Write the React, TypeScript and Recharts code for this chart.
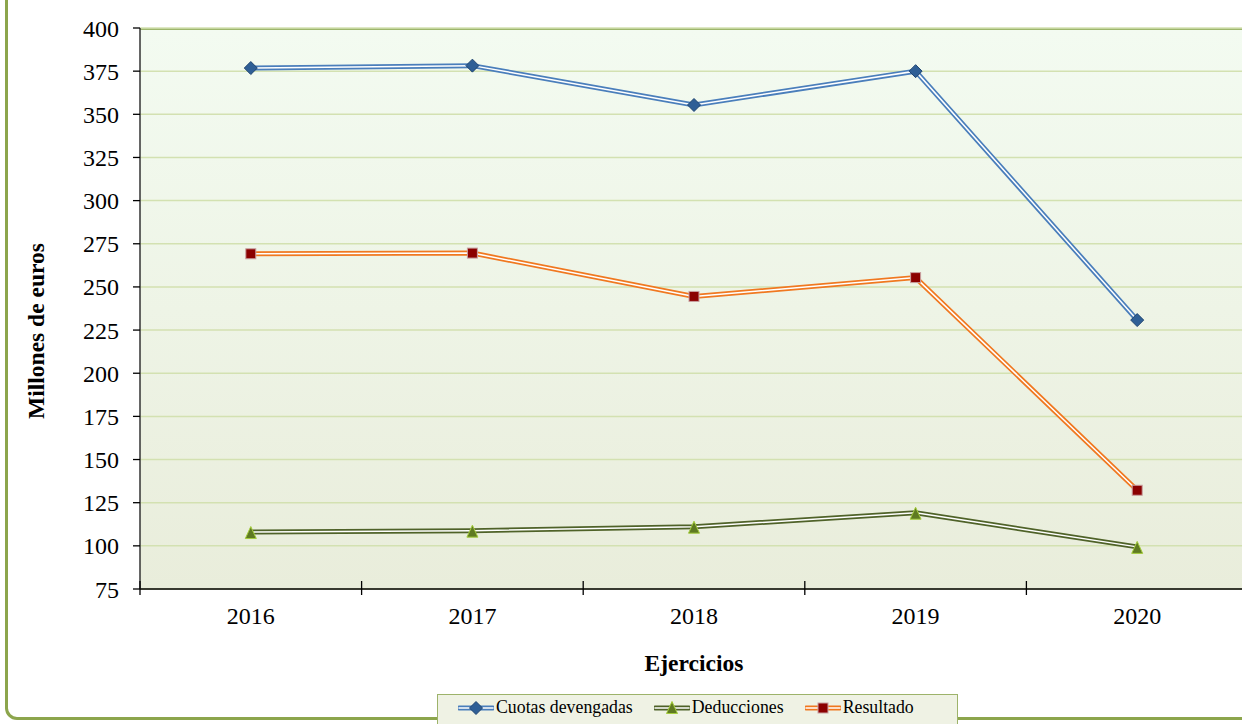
import { LineChart, Line, XAxis, YAxis, CartesianGrid } from "recharts";

const years = ["2016", "2017", "2018", "2019", "2020"];
const cuotas = [376.8, 378.2, 355.4, 375, 230.8];
const deducciones = [108, 108.8, 111.1, 119.2, 99.4];
const resultado = [269.2, 269.6, 244.5, 255.4, 132.2];
const yTicks = [75, 100, 125, 150, 175, 200, 225, 250, 275, 300, 325, 350, 375, 400];

const data = years.map((y, i) => ({
  year: y,
  cuotas: cuotas[i],
  deducciones: deducciones[i],
  resultado: resultado[i],
}));

const FONT = "Liberation Serif, Times New Roman, serif";
const CHART_W = 1300;
const CHART_H = 724;
const TOP = 28;
const LEFT = 140;
const RIGHT = 52;
const XAXIS_H = 135;
const PLOT_W = CHART_W - LEFT - RIGHT;
const AXIS_Y = CHART_H - XAXIS_H;
const BAND = PLOT_W / years.length;

const BLUE = "#4a7ebb";
const GREEN = "#4f6228";
const ORANGE = "#f07820";

function Diamond({ cx, cy }: any) {
  if (cx == null || cy == null) return null;
  return (
    <polygon
      points={`${cx - 6.5},${cy} ${cx},${cy - 6.5} ${cx + 6.5},${cy} ${cx},${cy + 6.5}`}
      fill="#2f5f96"
      stroke="#1f4470"
      strokeWidth={1}
    />
  );
}

function Square({ cx, cy }: any) {
  if (cx == null || cy == null) return null;
  return (
    <rect x={cx - 5} y={cy - 5} width={10} height={10} fill="#8b0000" stroke="#c9a0a0" strokeWidth={1} />
  );
}

function Triangle({ cx, cy }: any) {
  if (cx == null || cy == null) return null;
  return (
    <polygon
      points={`${cx - 5.5},${cy + 6.5} ${cx},${cy - 5.5} ${cx + 5.5},${cy + 6.5}`}
      fill="#5f7a22"
      stroke="#a4cc3c"
      strokeWidth={1}
    />
  );
}

function YearTick({ x, payload, index }: any) {
  return (
    <g>
      <line x1={x - BAND / 2} x2={x - BAND / 2} y1={AXIS_Y - 8} y2={AXIS_Y + 6} stroke="#000" strokeWidth={1.3} />
      {index === years.length - 1 && (
        <line x1={x + BAND / 2} x2={x + BAND / 2} y1={AXIS_Y - 8} y2={AXIS_Y + 6} stroke="#000" strokeWidth={1.3} />
      )}
      <text
        x={x}
        y={AXIS_Y + 35}
        textAnchor="middle"
        fontSize={24}
        style={{ fontFamily: FONT }}
        fill="#000"
      >
        {payload.value}
      </text>
    </g>
  );
}

function LegendIcon({ color, kind }: { color: string; kind: string }) {
  return (
    <svg width={36} height={14} style={{ marginRight: 2 }}>
      <line x1={1} x2={35} y1={7} y2={7} stroke={color} strokeWidth={5} strokeLinecap="round" />
      <line x1={1} x2={35} y1={7} y2={7} stroke="#fff" strokeWidth={1.5} strokeLinecap="round" />
      {kind === "d" && <Diamond cx={18} cy={7} />}
      {kind === "t" && <Triangle cx={18} cy={6} />}
      {kind === "s" && <Square cx={18} cy={7} />}
    </svg>
  );
}

const series = [
  { key: "cuotas", name: "Cuotas devengadas", color: BLUE, dot: Diamond, kind: "d" },
  { key: "deducciones", name: "Deducciones", color: GREEN, dot: Triangle, kind: "t" },
  { key: "resultado", name: "Resultado", color: ORANGE, dot: Square, kind: "s" },
];

export default function App() {
  return (
    <div
      style={{
        position: "fixed",
        left: 0,
        top: 0,
        width: 1242,
        height: 724,
        overflow: "hidden",
        background: "#fff",
        fontFamily: FONT,
      }}
    >
      <div
        style={{
          position: "absolute",
          left: 5,
          top: -40,
          width: 1320,
          height: 760,
          border: "3px solid #8ca54c",
          borderRadius: 12,
          boxSizing: "border-box",
        }}
      />
      <div
        style={{
          position: "absolute",
          left: LEFT,
          top: TOP,
          width: PLOT_W,
          height: AXIS_Y - TOP,
          background: "linear-gradient(#f3fbf1, #e9eddb)",
          borderTop: "2px solid #9db66c",
          boxSizing: "border-box",
        }}
      />
      <div style={{ position: "absolute", left: 0, top: 0 }}>
        <LineChart
          width={CHART_W}
          height={CHART_H}
          data={data}
          margin={{ top: TOP, right: RIGHT, left: 0, bottom: 0 }}
        >
          <CartesianGrid vertical={false} stroke="#d3e1b1" strokeWidth={1.5} />
          <XAxis
            dataKey="year"
            height={XAXIS_H}
            padding={{ left: BAND / 2, right: BAND / 2 }}
            axisLine={{ stroke: "#000", strokeWidth: 1.5 }}
            tickLine={false}
            tick={<YearTick />}
            interval={0}
          />
          <YAxis
            width={LEFT}
            domain={[75, 400]}
            ticks={yTicks}
            interval={0}
            axisLine={{ stroke: "#333", strokeWidth: 1.5 }}
            tickLine={{ stroke: "#000", strokeWidth: 1.3 }}
            tickSize={7}
            tickMargin={14}
            tick={{ fontSize: 24, fontFamily: FONT, fill: "#000", style: { fontFamily: FONT } }}
          />
          {series.map((s) => (
            <Line
              key={s.key + "-outer"}
              dataKey={s.key}
              stroke={s.color}
              strokeWidth={5}
              dot={false}
              activeDot={false}
              isAnimationActive={false}
              type="linear"
            />
          ))}
          {series.map((s) => (
            <Line
              key={s.key + "-inner"}
              dataKey={s.key}
              stroke="#fff"
              strokeWidth={1.5}
              dot={<s.dot />}
              activeDot={false}
              isAnimationActive={false}
              type="linear"
            />
          ))}
        </LineChart>
      </div>
      <div
        style={{
          position: "absolute",
          left: 36,
          top: 331,
          transform: "translate(-50%, -50%) rotate(-90deg)",
          fontWeight: "bold",
          fontSize: 23.5,
          whiteSpace: "nowrap",
        }}
      >
        Millones de euros
      </div>
      <div
        style={{
          position: "absolute",
          left: 694,
          top: 663,
          transform: "translate(-50%, -50%)",
          fontWeight: "bold",
          fontSize: 23.5,
          whiteSpace: "nowrap",
        }}
      >
        Ejercicios
      </div>
      <div
        style={{
          position: "absolute",
          left: 437,
          top: 694,
          width: 521,
          height: 34,
          background: "#eff2e4",
          border: "1px solid #9db36a",
          boxSizing: "border-box",
          display: "flex",
          alignItems: "flex-start",
          paddingTop: 2,
          paddingLeft: 20,
          fontSize: 17.8,
        }}
      >
        {series.map((s) => (
          <div key={s.key} style={{ display: "flex", alignItems: "center", marginRight: 21 }}>
            <LegendIcon color={s.color} kind={s.kind} />
            <span>{s.name}</span>
          </div>
        ))}
      </div>
    </div>
  );
}
